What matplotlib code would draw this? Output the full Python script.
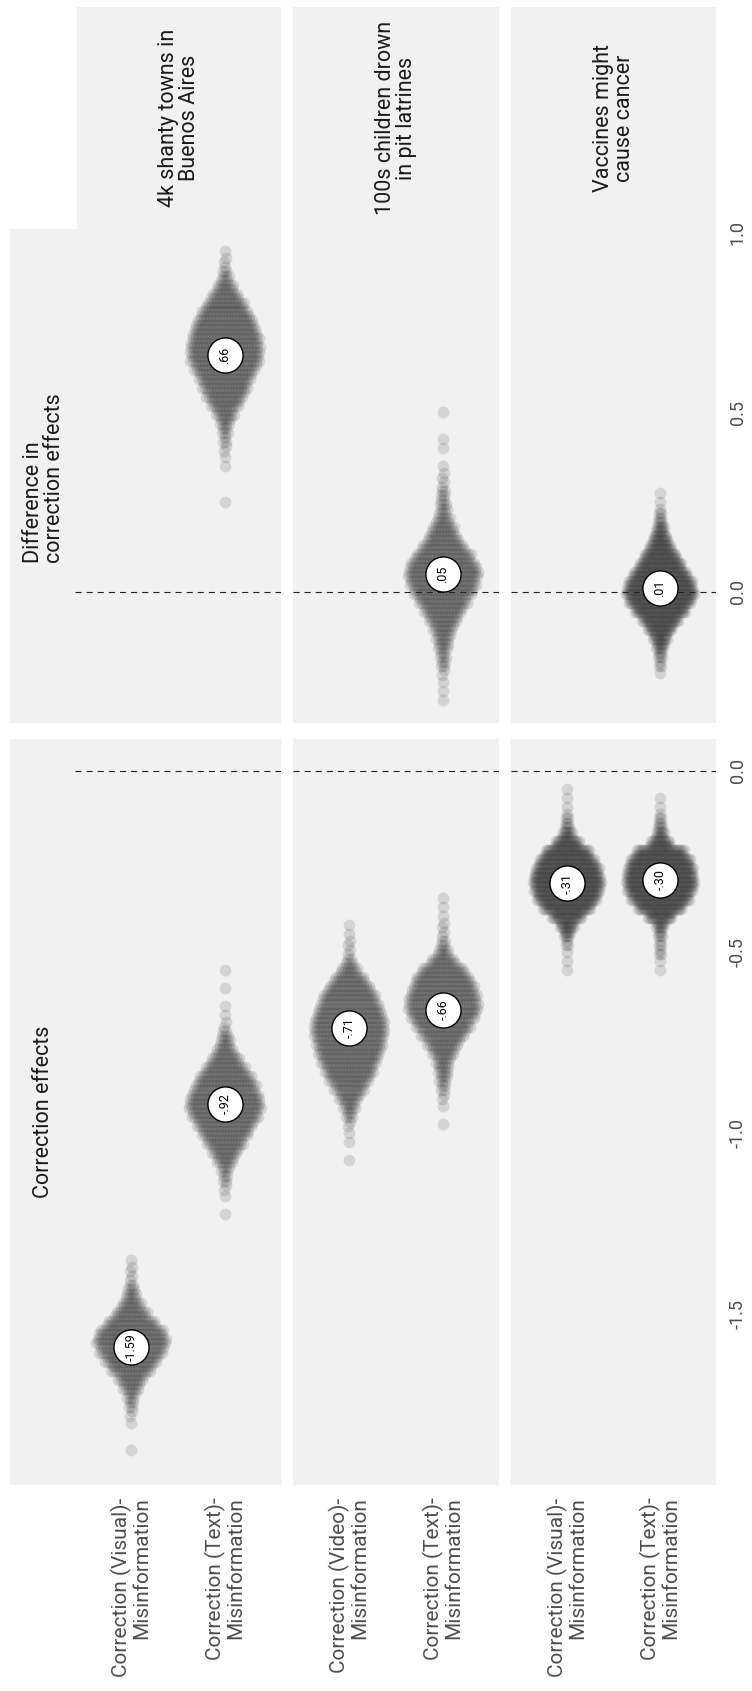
import numpy as np
import matplotlib
matplotlib.use("Agg")
import matplotlib.pyplot as plt

plt.rcParams['font.family'] = ['Roboto', 'DejaVu Sans']

# facet rows (misinformation items) and the two conditions shown in each
rows = ["4k shanty towns in\nBuenos Aires",
        "100s children drown\nin pit latrines",
        "Vaccines might\ncause cancer"]
conditions = [["Correction (Visual)-\nMisinformation", "Correction (Text)-\nMisinformation"],
              ["Correction (Video)-\nMisinformation", "Correction (Text)-\nMisinformation"],
              ["Correction (Visual)-\nMisinformation", "Correction (Text)-\nMisinformation"]]

# medians and their printed labels
effect_medians = [[-1.59, -0.92], [-0.71, -0.66], [-0.31, -0.30]]
effect_labels = [["-1.59", "-.92"], ["-.71", "-.66"], ["-.31", "-.30"]]
diff_medians = [0.66, 0.05, 0.01]
diff_labels = [".66", ".05", ".01"]

# swarm counts per 0.025 bin, from the lowest bin upwards
bin_w = 0.025
effect_start = [[-1.875, -1.225], [-1.075, -0.975], [-0.550, -0.550]]
effect_counts = [
    [[1, 0, 0, 1, 2, 4, 6, 12, 18, 28, 36, 44, 48, 44, 33, 22, 14, 8, 5, 2, 2, 1],
     [1, 0, 1, 2, 4, 6, 12, 18, 25, 32, 38, 45, 49, 47, 42, 36, 28, 20, 13, 8, 5, 2, 1, 1, 0, 1, 0, 1]],
    [[1, 0, 1, 1, 2, 5, 9, 14, 21, 28, 33, 38, 42, 45, 48, 48, 45, 41, 36, 29, 21, 12, 5, 2, 2, 1, 1],
     [1, 0, 1, 2, 4, 6, 8, 10, 16, 22, 30, 37, 44, 48, 46, 42, 37, 29, 17, 8, 4, 2, 2, 1, 1, 1]],
    [[1, 1, 1, 3, 8, 17, 34, 54, 68, 74, 77, 72, 63, 50, 28, 12, 5, 3, 1, 1, 1],
     [1, 1, 3, 3, 5, 10, 28, 50, 65, 74, 77, 74, 68, 54, 23, 10, 5, 3, 1, 1]],
]
diff_start = [0.250, -0.300, -0.225]
diff_counts = [
    [1, 0, 0, 0, 1, 1, 2, 3, 5, 8, 13, 20, 26, 31, 36, 42, 47, 48, 46, 43, 39, 33, 26, 19, 12, 6, 3, 2, 1],
    [1, 1, 1, 2, 4, 5, 8, 10, 14, 20, 26, 33, 40, 45, 48, 45, 38, 29, 21, 16, 10, 6, 5, 4, 2, 2, 1, 0, 1, 1, 0, 0, 1],
    [1, 3, 5, 10, 17, 28, 41, 57, 70, 77, 72, 61, 48, 37, 25, 17, 10, 5, 3, 1, 1],
]

effect_ticks = [-1.5, -1.0, -0.5, 0.0]
diff_ticks = [0.0, 0.5, 1.0]

# layout (pixels of the 752x1691 canvas)
W, H = 752, 1691
row_x = [(10, 281), (293, 499), (511, 716)]
strip_x = [(77, 281), (293, 499), (511, 716)]
cat_lims = [(-0.295, 2.6), (0.4, 2.6), (0.4, 2.6)]
dot_step = [0.016, 0.016, 0.0096]   # horizontal spacing of dots in a bin

panel_bg = '#f1f1f1'
dot_col = '#404040'
grey_txt = '#4d4d4d'
dark_txt = '#1a1a1a'


def box(x0, x1, y0, y1):
    return [x0 / W, 1 - y1 / H, (x1 - x0) / W, (y1 - y0) / H]


def swarm(ax, cat, start, counts, step):
    xs, ys = [], []
    for i, n in enumerate(counts):
        if n == 0:
            continue
        k = np.arange(n)
        off = (k - (n - 1) / 2) * step
        # alternate dots sit a quarter bin up / down so the bins do not band
        dy = ((k % 2) - 0.5) * bin_w / 2 if n > 1 else np.zeros(1)
        xs.extend(cat + off)
        ys.extend(start + i * bin_w + dy)
    ax.scatter(xs, ys, s=72, c=dot_col, alpha=0.16, linewidths=0, zorder=2)


def label_dot(ax, cat, val, txt):
    ax.scatter([cat], [val], s=640, c='white', edgecolors='black', linewidths=1.0, zorder=4)
    ax.text(cat, val, txt, rotation=90, ha='center', va='center', fontsize=9, zorder=5)


def style(ax):
    ax.set_facecolor(panel_bg)
    for s in ax.spines.values():
        s.set_visible(False)
    ax.tick_params(length=0)
    ax.set_xticks([])
    ax.set_yticks([])


fig = plt.figure(figsize=(W / 100, H / 100), dpi=100)

for r in range(3):
    axb = fig.add_axes(box(*row_x[r], 739, 1485))
    axt = fig.add_axes(box(*row_x[r], 229, 723))
    axs = fig.add_axes(box(*strip_x[r], 7, 229))
    for ax in (axb, axt, axs):
        style(ax)

    axb.set_xlim(*cat_lims[r])
    axb.set_ylim(-1.972, 0.088)
    axt.set_xlim(*cat_lims[r])
    axt.set_ylim(-0.365, 1.011)

    for c in range(2):
        swarm(axb, c + 1, effect_start[r][c], effect_counts[r][c], dot_step[r])
        label_dot(axb, c + 1, effect_medians[r][c], effect_labels[r][c])
    swarm(axt, 2, diff_start[r], diff_counts[r], dot_step[r])
    label_dot(axt, 2, diff_medians[r], diff_labels[r])

    for ax in (axb, axt):
        ax.hlines(0, 0.4, 2.6, color='#222222', lw=0.8, ls=(0, (5.5, 4.5)), zorder=3)

    axb.set_xticks([1, 2])
    axb.set_xticklabels(conditions[r], rotation=90, ha='center', va='top',
                        multialignment='right', fontsize=15, color=grey_txt, linespacing=1.0)
    axb.tick_params(axis='x', pad=9)

    axs.text(0.5, 0.5, rows[r], transform=axs.transAxes, rotation=90, ha='center',
             va='center', multialignment='center', fontsize=15.5, color=dark_txt, linespacing=1.0)

    if r == 2:
        for ax, ticks in ((axb, effect_ticks), (axt, diff_ticks)):
            ax.yaxis.tick_right()
            ax.set_yticks(ticks)
            ax.set_yticklabels([f"{t:.1f}" for t in ticks], rotation=90, va='center', ha='left',
                               fontsize=13, color=grey_txt)
            ax.tick_params(axis='y', pad=9)

    if r == 0:
        axb.text(0.063, -1.18, "Correction effects", rotation=90, ha='center', va='bottom',
                 fontsize=15.5, color=dark_txt)
        axt.text(0.063, 0.08, "Difference in\ncorrection effects", rotation=90, ha='center',
                 va='bottom', multialignment='left', fontsize=15.5, color=dark_txt, linespacing=1.0)

fig.savefig("out.png", dpi=100, facecolor='white')
